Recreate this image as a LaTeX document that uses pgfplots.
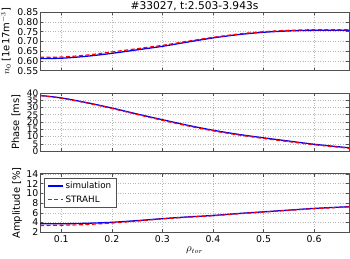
\documentclass[border=0pt]{standalone}
\usepackage{pgfplots}
\pgfplotsset{compat=1.18}
\usepackage{fontspec}
\setmainfont{DejaVu Sans}
\definecolor{framegray}{RGB}{80,80,80}
\pgfplotsset{
  base/.style={
    scale only axis, width=309bp, height=58.5bp,
    xmin=0.058, xmax=0.669,
    xtick={0.1,0.2,0.3,0.4,0.5,0.6},
    grid=major,
    major grid style={gray!55, dash pattern=on 1bp off 1.5bp, line width=0.5pt},
    axis line style={framegray, line width=0.6pt},
    tick align=inside, tick style={framegray, line width=0.5pt}, major tick length=3bp,
    xtick pos=both, ytick pos=both,
    ticklabel style={font=\fontsize{9.4}{9.4}\selectfont},
    yticklabel style={inner xsep=1.5bp},
    /pgf/number format/assume math mode=true,
    label style={font=\fontsize{10.5}{11}\selectfont},
    every axis y label/.style={rotate=90, anchor=center},
    clip=true,
  },
  sim/.style={draw=blue, line width=1.3pt, smooth},
  str/.style={draw=red, line width=1.2pt, dash pattern=on 4bp off 2.5bp, smooth},
}
\begin{document}
\begin{tikzpicture}
\path[use as bounding box] (0,0) rectangle (350bp,259bp);
% top panel
\begin{axis}[base, at={(40bp,188.3bp)}, anchor=south west,
  ymin=0.55, ymax=0.85, ytick={0.55,0.60,...,0.851},
  yticklabel style={/pgf/number format/.cd, fixed, fixed zerofill, precision=2},
  xticklabels={},
  ylabel={$n_0$ [1e17m$^{-3}$]},
  every axis y label/.append style={at={(axis description cs:-0.11,0.5)}},
  title={\#33027, t:2.503-3.943s},
  every axis title shift=0pt,
  title style={font=\fontsize{10.7}{11}\selectfont, at={(axis description cs:0.5,1)}, anchor=base, inner sep=0pt, yshift=3bp},
]
\addplot[sim] coordinates {(0.058,0.613) (0.1,0.614) (0.15,0.624) (0.2,0.639) (0.25,0.657) (0.3,0.675) (0.35,0.697) (0.4,0.718) (0.45,0.735) (0.5,0.747) (0.55,0.754) (0.6,0.757) (0.669,0.757)};
\addplot[str] coordinates {(0.058,0.619) (0.1,0.620) (0.15,0.630) (0.2,0.646) (0.25,0.663) (0.3,0.680) (0.35,0.701) (0.4,0.721) (0.45,0.738) (0.5,0.750) (0.55,0.757) (0.6,0.760) (0.669,0.760)};
\end{axis}
% middle panel
\begin{axis}[base, at={(40bp,107.7bp)}, anchor=south west,
  ymin=0, ymax=40, ytick={0,5,...,40},
  yticklabel style={font=\fontsize{9}{9}\selectfont},
  xticklabels={},
  ylabel={Phase [ms]},
  every axis y label/.append style={at={(axis description cs:-0.078,0.5)}},
]
\addplot[sim] coordinates {(0.058,38.2) (0.1,36.5) (0.15,33.3) (0.2,29.6) (0.25,25.5) (0.3,21.6) (0.35,17.8) (0.4,14.4) (0.45,11.6) (0.5,9.2) (0.55,7.0) (0.6,4.8) (0.669,2.4)};
\addplot[str] coordinates {(0.058,38.1) (0.1,36.3) (0.15,33.1) (0.2,29.3) (0.25,25.2) (0.3,21.2) (0.35,17.4) (0.4,14.0) (0.45,11.2) (0.5,8.8) (0.55,6.6) (0.6,4.5) (0.669,2.1)};
\end{axis}
% bottom panel
\begin{axis}[base, at={(40bp,26.7bp)}, anchor=south west,
  ymin=2, ymax=14, ytick={2,4,...,14},
  xlabel={$\rho_{tor}$},
  xlabel style={at={(axis description cs:0.5,0)}, anchor=north, yshift=-11bp},
  ylabel={Amplitude [\%]},
  every axis y label/.append style={at={(axis description cs:-0.074,0.5)}},
  xticklabel style={/pgf/number format/.cd, fixed, precision=1},
  legend style={at={(axis description cs:0.013,0.926)}, anchor=north west,
    draw=framegray, line width=0.5pt, font=\fontsize{8.8}{9}\selectfont,
    inner xsep=3bp, inner ysep=1.5bp, row sep=1.5bp, fill=white,
    /tikz/column 2/.style={column sep=5bp}},
  legend cell align=left,
  legend image code/.code={\draw[#1] (0bp,0bp) -- (15bp,0bp);},
]
\addplot[sim] coordinates {(0.058,3.75) (0.1,3.75) (0.15,3.85) (0.2,4.05) (0.25,4.4) (0.3,4.8) (0.35,5.15) (0.4,5.45) (0.45,5.85) (0.5,6.2) (0.55,6.55) (0.6,6.9) (0.669,7.25)};
\addlegendentry{simulation}
\addplot[str] coordinates {(0.058,3.4) (0.1,3.45) (0.15,3.6) (0.2,3.9) (0.25,4.3) (0.3,4.75) (0.35,5.1) (0.4,5.4) (0.45,5.8) (0.5,6.15) (0.55,6.5) (0.6,6.85) (0.669,7.2)};
\addlegendentry{STRAHL}
\end{axis}
\end{tikzpicture}
\end{document}
